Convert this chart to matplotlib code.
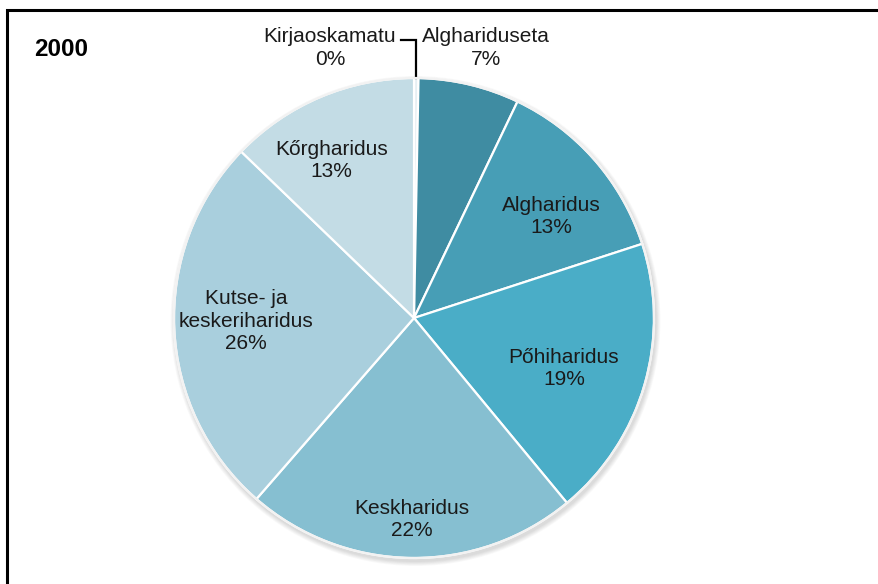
import numpy as np
import matplotlib.pyplot as plt
from matplotlib.patches import Circle, Rectangle

plt.rcParams['font.family'] = ['Liberation Sans', 'DejaVu Sans']

title = "2000"
categories = ["Kirjaoskamatu", "Alghariduseta", "Algharidus", "Pőhiharidus",
              "Keskharidus", "Kutse- ja\nkeskeriharidus", "Kőrgharidus"]
shares = [0.3, 6.8, 12.9, 19.0, 22.4, 25.8, 12.8]
colors = ["#e6eff3", "#3f8ca2", "#479eb6", "#4aadc7", "#86bfd1", "#a9cfdd", "#c3dce5"]
# label placement inside the slices: share of the radius and a clockwise nudge in degrees
label_dist = [None, None, 0.71, 0.66, 0.84, 0.70, 0.74]
label_turn = [0, 0, 4.8, 2.5, 0, 1.4, -4.6]

W, H = 879, 584
fig = plt.figure(figsize=(W / 100, H / 100), dpi=100)
ax = fig.add_axes([0, 0, 1, 1])

cx, cy, R = 414, H - 318, 240

# soft shadow under the pie
for k in range(6):
    ax.add_patch(Circle((cx + 1.5, cy - 3), R + 1 + k * 0.8, color='#000000',
                        alpha=0.025, lw=0, zorder=0))

wedges, _ = ax.pie(shares, colors=colors, startangle=90, counterclock=False,
                   center=(cx, cy), radius=R, frame=True,
                   wedgeprops=dict(edgecolor='white', linewidth=1.6))
ax.set_xlim(0, W)
ax.set_ylim(0, H)
ax.axis('off')
ax.add_patch(Circle((cx, cy), R, fill=False, ec='#f2f2f2', lw=1.6, zorder=3))

fs = 15
ls = 1.22
for w, name, val, d, turn in zip(wedges, categories, shares, label_dist, label_turn):
    if d is None:
        continue
    th = np.deg2rad((w.theta1 + w.theta2) / 2 - turn)
    x = cx + d * R * np.cos(th)
    y = cy + d * R * np.sin(th)
    ax.text(x, y, f"{name}\n{val:.0f}%", ha='center', va='center', fontsize=fs,
            color='#1a1a1a', linespacing=ls, zorder=4)

# the two thin slices at the top get their labels outside the pie
ax.text(486, H - 48, f"{categories[1]}\n{shares[1]:.0f}%", ha='center', va='center',
        fontsize=fs, color='#1a1a1a', linespacing=ls)
ax.text(330, H - 48, f"{categories[0]}\n{shares[0]:.0f}%", ha='center', va='center',
        fontsize=fs, color='#1a1a1a', linespacing=ls)
th0 = np.deg2rad((wedges[0].theta1 + wedges[0].theta2) / 2)
tip = (cx + R * np.cos(th0), cy + R * np.sin(th0))
ax.plot([tip[0], tip[0], 401], [tip[1], H - 40, H - 40], color='black', lw=1.6,
        solid_joinstyle='miter')

ax.text(34, H - 49, title, ha='left', va='center', fontsize=17.5, fontweight='bold',
        color='black')

# chart frame, only its top and left edges fall inside the image
fig.patches.append(Rectangle((7 / W, -0.1), 1.2, (H - 10) / H + 0.1,
                             transform=fig.transFigure, fill=False,
                             ec='black', lw=2.2))

fig.savefig("out.png", dpi=100)
